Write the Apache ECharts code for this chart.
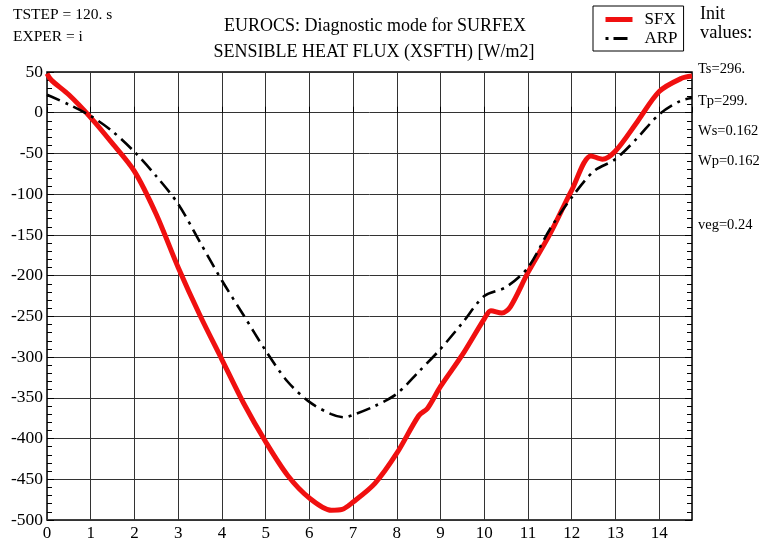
<!DOCTYPE html>
<html lang="en">
<head>
    <meta charset="UTF-8">
    <title>EUROCS XSFTH</title>
    <script src="https://cdn.jsdelivr.net/npm/echarts@6/dist/echarts.min.js"></script>
    <style>
        body { margin: 0; padding: 0; background: #fff; }
        #chart { width: 761px; height: 542px; }
    </style>
</head>
<body>
    <div id="chart"></div>
    <script>
        // time (hours) and flux values
        var sfxHours = [0, 0.1, 0.5, 1, 1.5, 2, 2.5, 3, 3.5, 4, 4.5, 5, 5.5, 6, 6.5, 6.75, 7, 7.5, 8, 8.5, 8.7, 9, 9.5, 10, 10.15, 10.4, 10.6, 11, 11.5, 12, 12.44, 12.7, 13, 13.5, 14, 14.5, 14.75];
        var sfxFlux = [48, 40, 22, -6, -38, -72, -125, -190, -249, -303, -357, -404, -445, -473, -488, -487, -478, -455, -418, -372, -363, -336, -297, -253, -243, -246, -238, -196, -149, -95, -53, -57, -47, -11, 26, 42, 45];

        var arpHours = [0, 0.5, 1, 1.5, 2, 2.5, 3, 3.5, 4, 4.5, 5, 5.5, 6, 6.5, 6.8, 7, 7.5, 8, 8.5, 9, 9.5, 10, 10.5, 11, 11.5, 12, 12.5, 13, 13.5, 14, 14.5, 14.75];
        var arpFlux = [22, 10, -4, -23, -48, -78, -112, -159, -206, -249, -292, -330, -355, -370, -374, -371, -360, -345, -318, -290, -258, -225, -214, -190, -143, -104, -72, -57, -31, -2, 15, 18];

        var initValues = ['Ts=296.', 'Tp=299.', 'Ws=0.162', 'Wp=0.162', 'veg=0.24'];
        var initTops = [62, 94, 124, 154, 218];

        function pairs(xs, ys) {
            return xs.map(function (x, i) { return [x, ys[i]]; });
        }

        var serif = '"Liberation Serif", "DejaVu Serif", serif';
        var myChart = echarts.init(document.getElementById('chart'));

        var graphics = [
            { type: 'text', left: 13, top: 7, style: { text: 'TSTEP = 120. s', font: '15.5px ' + serif, fill: '#000' } },
            { type: 'text', left: 13, top: 29, style: { text: 'EXPER = i', font: '15.5px ' + serif, fill: '#000' } },
            { type: 'text', left: 700, top: 5, style: { text: 'Init', font: '18px ' + serif, fill: '#000' } },
            { type: 'text', left: 700, top: 24, style: { text: 'values:', font: '18.5px ' + serif, fill: '#000' } }
        ];
        initValues.forEach(function (t, i) {
            graphics.push({ type: 'text', left: 698, top: initTops[i], style: { text: t, font: '14.5px ' + serif, fill: '#000' } });
        });

        myChart.setOption({
            backgroundColor: '#fff',
            animation: false,
            textStyle: { fontFamily: serif },
            title: [{
                text: 'EUROCS: Diagnostic mode for SURFEX',
                left: 370, top: 12, textAlign: 'center',
                textStyle: { fontSize: 18, fontWeight: 'normal', color: '#000', fontFamily: serif }
            }, {
                text: 'SENSIBLE HEAT FLUX (XSFTH) [W/m2]',
                left: 369, top: 38, textAlign: 'center',
                textStyle: { fontSize: 18, fontWeight: 'normal', color: '#000', fontFamily: serif }
            }],
            legend: {
                left: 593, top: 6,
                orient: 'vertical',
                itemWidth: 27, itemHeight: 14, itemGap: 2,
                padding: [5, 6, 4, 10],
                borderColor: '#000', borderWidth: 1,
                itemStyle: { opacity: 0 },
                textStyle: { fontSize: 17, color: '#000', fontFamily: serif, padding: [0, 0, 0, 7] },
                data: [
                    { name: 'SFX', lineStyle: { width: 5, color: '#f01010' } },
                    { name: 'ARP', lineStyle: { width: 3, color: '#000', type: [3, 5, 14, 6] } }
                ]
            },
            graphic: graphics,
            grid: {
                left: 47, right: 69, top: 72, bottom: 20,
                show: true, borderColor: '#000', borderWidth: 1.5
            },
            xAxis: {
                type: 'value', min: 0, max: 14.75, interval: 1,
                axisLine: { show: false },
                axisTick: { show: true, inside: true, length: 6, lineStyle: { color: '#000' } },
                axisLabel: {
                    color: '#000', fontSize: 17, fontFamily: serif, margin: 5,
                    formatter: function (v) { return Number.isInteger(v) ? String(v) : ''; }
                },
                splitLine: { show: true, lineStyle: { color: '#333', width: 1 } }
            },
            yAxis: [{
                type: 'value', min: -500, max: 50, interval: 50,
                axisLine: { show: false },
                axisTick: { show: true, inside: true, length: 7, lineStyle: { color: '#000' } },
                minorTick: { show: true, splitNumber: 5, length: 5, lineStyle: { color: '#000' } },
                axisLabel: { color: '#000', fontSize: 17.5, fontFamily: serif, margin: 4 },
                splitLine: { show: true, lineStyle: { color: '#333', width: 1 } }
            }, {
                type: 'value', min: -500, max: 50, interval: 50, position: 'right',
                axisLine: { show: false },
                axisTick: { show: true, inside: true, length: 7, lineStyle: { color: '#000' } },
                minorTick: { show: true, splitNumber: 5, length: 5, lineStyle: { color: '#000' } },
                axisLabel: { show: false },
                splitLine: { show: false }
            }],
            series: [{
                name: 'SFX',
                type: 'line',
                data: pairs(sfxHours, sfxFlux),
                smooth: 0.3,
                showSymbol: false, symbol: 'none',
                itemStyle: { color: '#f01010' },
                lineStyle: { color: '#f01010', width: 5 },
                z: 3
            }, {
                name: 'ARP',
                type: 'line',
                data: pairs(arpHours, arpFlux),
                smooth: 0.3,
                showSymbol: false, symbol: 'none',
                itemStyle: { color: '#000' },
                lineStyle: { color: '#000', width: 2.6, type: [14, 6, 3, 6], cap: 'butt' },
                z: 4
            }]
        });
    </script>
</body>
</html>
